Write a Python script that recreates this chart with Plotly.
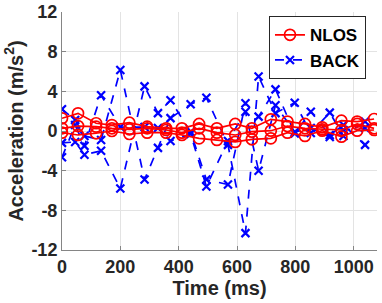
import plotly.graph_objects as go

# ---- data ----
time_nlos = [0, 55, 117, 171, 231, 292, 357, 411, 470, 531, 594, 651, 716, 773, 833, 892, 958, 1012, 1070]
nlos_1 = [1.28, 1.78, 0.78, 0.6, 0.84, 0.44, 0.27, 0.27, 0.71, 0.27, 0.71, 0.27, 1.18, 0.95, 0.71, 0.37, 1.04, 0.95, 1.21]
nlos_2 = [0.27, 0.5, 0.44, 0.27, 0.17, 0.27, 0.1, -0.17, 0.27, -0.17, -0.4, -0.07, 0.03, 0.5, 0.27, 0.17, 0.1, 0.71, 0.27]
nlos_3 = [-0.17, -0.4, -0.23, 0.0, -0.3, -0.17, -0.17, -0.4, -0.74, -0.9, -1.1, -0.84, -0.74, -0.17, -0.5, 0.03, -0.57, 0.03, 0.1]

time_back = [0, 45, 77, 134, 200, 283, 329, 372, 441, 495, 569, 629, 674, 732, 798, 853, 918, 965, 1039]
back_1 = [2.2, 1.1, -0.5, -0.9, 6.15, -4.9, -1.7, 1.3, 2.7, 3.36, -1.4, -10.3, 5.5, 1.8, 2.85, -0.2, 1.85, -0.5, 0.95]
back_2 = [-1.2, -1.1, -2.4, -2.0, -5.8, 4.5, 1.8, 3.1, -0.1, -4.9, -5.4, 2.8, 1.45, 4.2, -0.25, 1.95, -0.4, 0.6, -1.4]
back_3 = [-2.65, 0.6, -1.5, 3.6, 0.4, 0.4, 0.3, -1.0, -0.3, -5.6, -1.0, 1.95, -4.0, 2.6, -0.1, 0.3, -0.6, 0.1, 0.3]

x_ticks = [0, 200, 400, 600, 800, 1000]
y_ticks = [-12, -8, -4, 0, 4, 8, 12]

RED = "#FF0000"
BLUE = "#0000FF"
FONT = "Liberation Sans, Arial"

fig = go.Figure()

for i, ys in enumerate([back_1, back_2, back_3]):
    fig.add_trace(go.Scatter(
        x=time_back, y=ys, mode="lines+markers", name="BACK",
        legendgroup="back", showlegend=(i == 0), legendrank=2,
        line=dict(color=BLUE, width=1.7, dash="dash"),
        marker=dict(symbol="x-thin-open", size=8, color=BLUE,
                    line=dict(color=BLUE, width=2.2)),
    ))

for i, ys in enumerate([nlos_1, nlos_2, nlos_3]):
    fig.add_trace(go.Scatter(
        x=time_nlos, y=ys, mode="lines+markers", name="NLOS",
        legendgroup="nlos", showlegend=(i == 0), legendrank=1,
        line=dict(color=RED, width=1.7),
        marker=dict(symbol="circle-open", size=11, color=RED,
                    line=dict(color=RED, width=1.7)),
    ))

axis_common = dict(
    showgrid=True, gridcolor="#E3E3E3", gridwidth=1,
    showline=True, linecolor="#858585", linewidth=1,
    ticks="inside", ticklen=4, tickcolor="#858585",
    zeroline=False, mirror=False,
    tickfont=dict(family=FONT, size=18, color="#262626", weight="bold"),
)

fig.update_xaxes(
    range=[0, 1080], tickvals=x_ticks, ticktext=[str(v) for v in x_ticks],
    title=dict(text="Time (ms)", standoff=5,
               font=dict(family=FONT, size=20, color="#262626", weight="bold")),
    **axis_common,
)
fig.update_yaxes(
    range=[-12, 12], tickvals=y_ticks, ticktext=[str(v) for v in y_ticks],
    title=dict(text="Acceleration (m/s<sup>2</sup>)", standoff=2,
               font=dict(family=FONT, size=20, color="#262626", weight="bold")),
    **axis_common,
)

fig.update_layout(
    width=382, height=303,
    margin=dict(l=62, r=5, t=12, b=53, autoexpand=False),
    paper_bgcolor="white", plot_bgcolor="white",
    showlegend=True,
    legend=dict(
        x=0.965, y=0.982, xanchor="right", yanchor="top",
        bgcolor="white", bordercolor="#262626", borderwidth=1,
        font=dict(family=FONT, size=17, color="black", weight="bold"),
        itemwidth=30, tracegroupgap=0,
    ),
)

fig.write_html("out.html", config={"displayModeBar": False},
               post_script="document.body.style.margin='0';")
